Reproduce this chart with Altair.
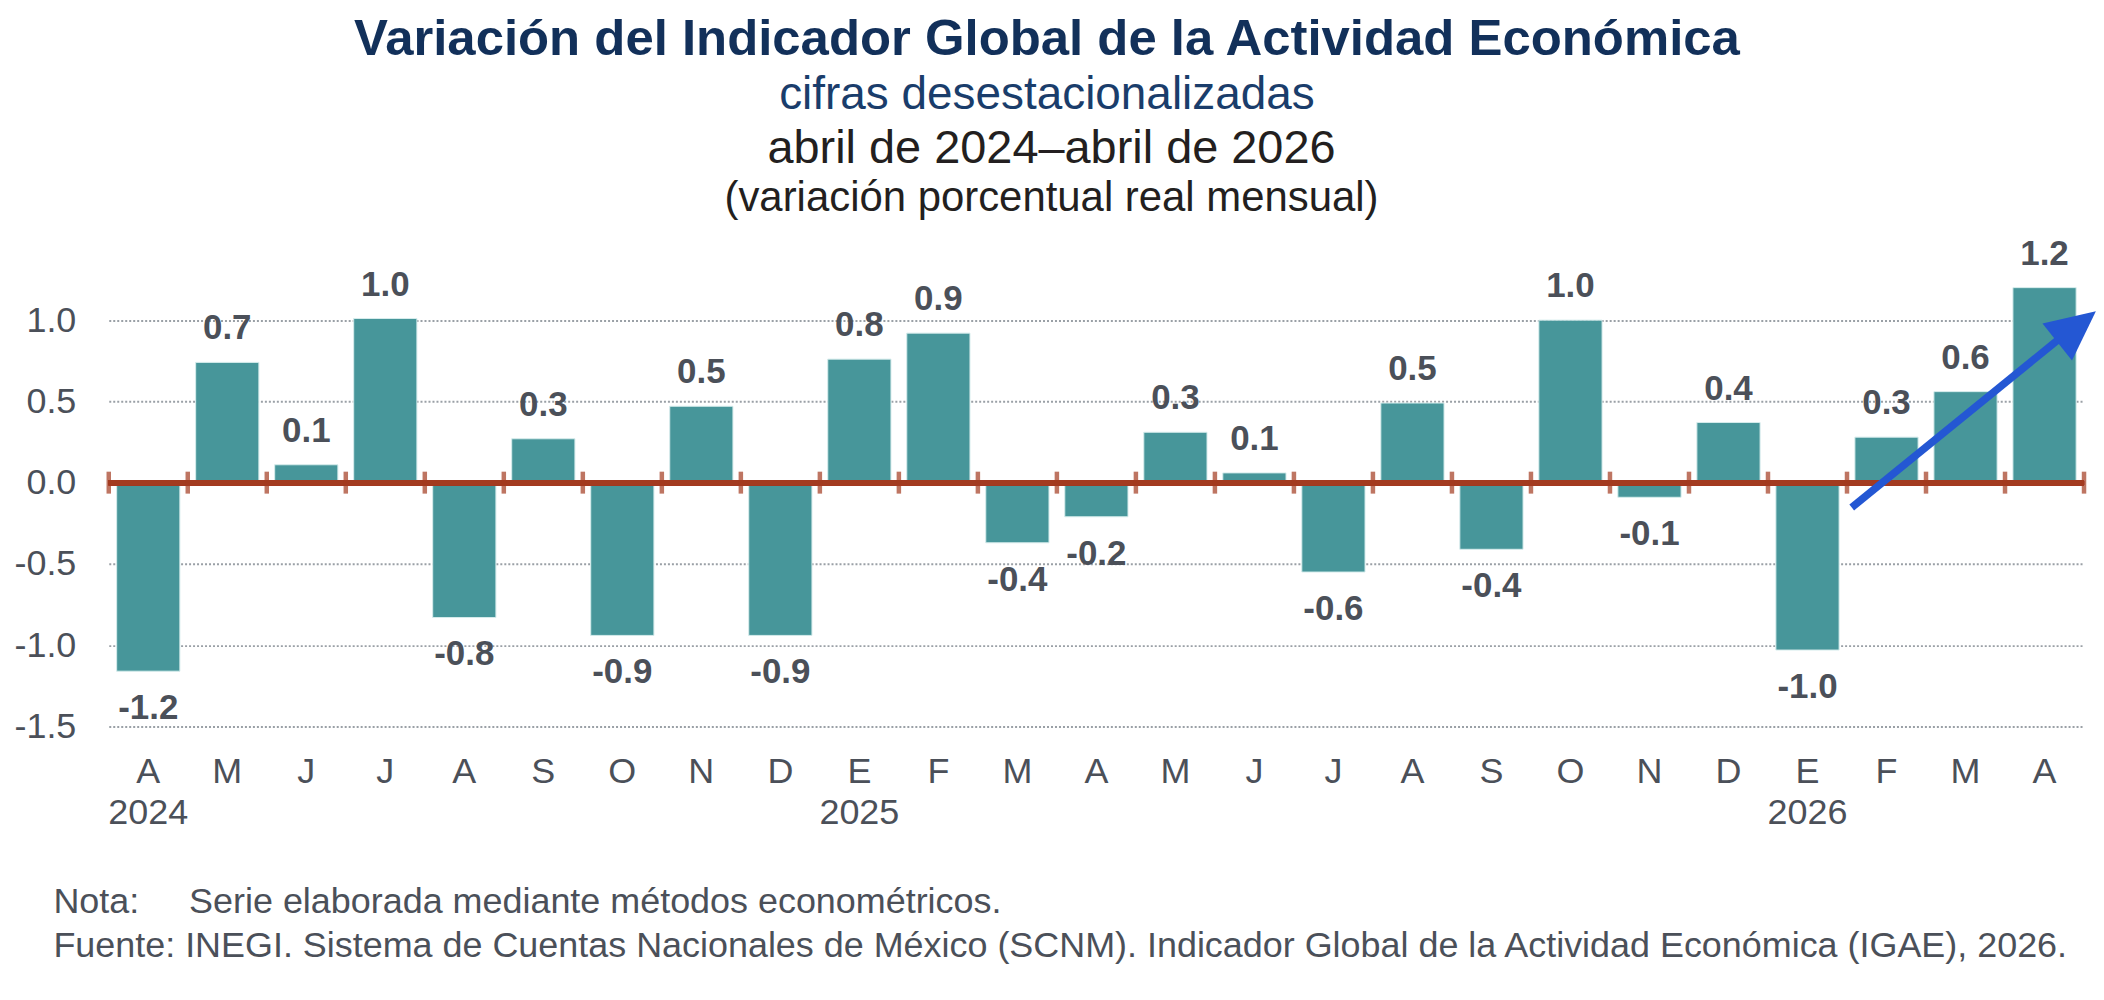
import altair as alt
import pandas as pd

# ---------------- data ----------------
months = ["A", "M", "J", "J", "A", "S", "O", "N", "D", "E", "F", "M", "A",
          "M", "J", "J", "A", "S", "O", "N", "D", "E", "F", "M", "A"]
years = ["2024", "", "", "", "", "", "", "", "", "2025", "", "", "",
         "", "", "", "", "", "", "", "", "2026", "", "", ""]
values = [-1.16, 0.74, 0.11, 1.01, -0.83, 0.27, -0.94, 0.47, -0.94, 0.76, 0.92, -0.37, -0.21,
          0.31, 0.06, -0.55, 0.49, -0.41, 1.00, -0.09, 0.37, -1.03, 0.28, 0.56, 1.20]
labels = ["-1.2", "0.7", "0.1", "1.0", "-0.8", "0.3", "-0.9", "0.5", "-0.9", "0.8", "0.9", "-0.4", "-0.2",
          "0.3", "0.1", "-0.6", "0.5", "-0.4", "1.0", "-0.1", "0.4", "-1.0", "0.3", "0.6", "1.2"]
y_ticks = [-1.5, -1.0, -0.5, 0.0, 0.5, 1.0]

# boundaries between months (in month units) for the tick marks on the zero line
boundaries = list(range(len(months) + 1))
# annotation arrow (month units / percent)
arrow_x = [22.06, 24.8]
arrow_y = [-0.153, 0.93]
arrow_tip_x = [25.15]
arrow_tip_y = [1.055]

title_text = "Variación del Indicador Global de la Actividad Económica"
subtitle_1 = "cifras desestacionalizadas"
subtitle_2 = "abril de 2024–abril de 2026"
subtitle_3 = "(variación porcentual real mensual)"
footer = [
    "Nota:\u00a0\u00a0\u00a0\u00a0\u00a0Serie elaborada mediante métodos econométricos.",
    "Fuente:\u00a0INEGI. Sistema de Cuentas Nacionales de México (SCNM). Indicador Global de la Actividad Económica (IGAE), 2026.",
]

# ---------------- styling ----------------
FONT = "Liberation Sans"
TEXT = "#4b5059"
BAR = "#47969a"
RUST = "#a33b20"
BLUE = "#2457d3"
W, H = 1980, 448

keys = [f"{i:02d}" for i in range(len(months))]
df = pd.DataFrame({"key": keys, "value": values, "label": labels})

label_lines = "[" + ",".join(f"['{m}','{y}']" for m, y in zip(months, years)) + "]"
label_expr = f"{label_lines}[toNumber(datum.value)]"

band_scale = alt.Scale(domain=keys, paddingInner=0, paddingOuter=0)
q_scale = alt.Scale(domain=[0, len(months)], nice=False, zero=False)
y_scale = alt.Scale(domain=[-1.5, 1.25], nice=False, zero=False)

x_axis = alt.Axis(
    labelExpr=label_expr, labelAngle=0, labelFontSize=36, labelColor=TEXT, labelFont=FONT,
    labelPadding=28, labelLineHeight=41, ticks=False, tickSize=0, domain=False, grid=False,
    title=footer, titleFontSize=36, titleFontWeight="normal", titleColor=TEXT, titleFont=FONT,
    titleAlign="left", titleAnchor="start", titleX=-56, titleY=159, titleBaseline="top",
    titleLineHeight=44,
)
y_axis = alt.Axis(
    values=y_ticks, labelExpr="replace(format(datum.value, '.1f'), '\u2212', '-')",
    labelFontSize=36, labelColor=TEXT, labelFont=FONT, labelPadding=33,
    ticks=False, tickSize=0, domain=False, grid=True, gridColor="#9aa0a6",
    gridDash=[2, 2], gridWidth=2, title=None,
)

bars = alt.Chart(df).mark_bar(
    color=BAR, width=alt.RelativeBandSize(0.8), stroke="#d6ecec", strokeWidth=1
).encode(
    x=alt.X("key:N", sort=keys, scale=band_scale, axis=x_axis),
    y=alt.Y("value:Q", scale=y_scale, axis=y_axis),
)

zero = alt.Chart(df).mark_rule(color=RUST, strokeWidth=5).encode(y=alt.datum(0))

ticks = alt.Chart(pd.DataFrame({"b": boundaries})).mark_tick(
    color=RUST, orient="vertical", size=22, thickness=4.5
).encode(
    x=alt.X("b:Q", scale=q_scale, axis=None),
    y=alt.datum(0),
)

pos_text = alt.Chart(df).transform_filter("datum.value >= 0").mark_text(
    font=FONT, fontSize=35, fontWeight="bold", color=TEXT, baseline="alphabetic", dy=-23
).encode(
    x=alt.X("key:N", sort=keys, scale=band_scale, axis=None),
    y=alt.Y("value:Q"),
    text="label:N",
)
neg_text = alt.Chart(df).transform_filter("datum.value < 0").mark_text(
    font=FONT, fontSize=35, fontWeight="bold", color=TEXT, baseline="top", dy=20
).encode(
    x=alt.X("key:N", sort=keys, scale=band_scale, axis=None),
    y=alt.Y("value:Q"),
    text="label:N",
)

arrow_df = pd.DataFrame({"x": [arrow_x[0]], "y": [arrow_y[0]], "x2": [arrow_x[1]], "y2": [arrow_y[1]]})
arrow_line = alt.Chart(arrow_df).mark_rule(color=BLUE, strokeWidth=7.5, strokeCap="butt").encode(
    x=alt.X("x:Q", scale=q_scale, axis=None),
    x2="x2:Q",
    y=alt.Y("y:Q"),
    y2="y2:Q",
)
tip_df = pd.DataFrame({"x": arrow_tip_x, "y": arrow_tip_y})
arrow_head = alt.Chart(tip_df).mark_point(
    shape="M0,0L0.48,1L-0.48,1Z", size=9801, filled=True, color=BLUE, opacity=1,
    angle=51.5, strokeWidth=0,
).encode(
    x=alt.X("x:Q", scale=q_scale, axis=None),
    y=alt.Y("y:Q"),
)

inner = alt.layer(
    bars, zero, ticks, pos_text, neg_text, arrow_line, arrow_head
).resolve_scale(x="independent").properties(
    width=W, height=H,
    title=alt.TitleParams(
        text=subtitle_2, subtitle=subtitle_3, fontSize=47, fontWeight="normal",
        color="#231f20", font=FONT, subtitleFontSize=42, subtitleColor="#231f20",
        subtitleFont=FONT, subtitlePadding=5, offset=17, anchor="middle", dx=-45,
    ),
)

chart = alt.vconcat(inner).properties(
    title=alt.TitleParams(
        text=title_text, subtitle=subtitle_1, fontSize=51, fontWeight="bold",
        color="#12305a", font=FONT, subtitleFontSize=46, subtitleColor="#1a3d6b",
        subtitleFont=FONT, subtitlePadding=7, offset=6, anchor="middle", dx=-8,
    ),
    padding={"left": 5, "top": 5, "right": 0, "bottom": 5},
).configure(font=FONT).configure_view(stroke=None).configure_concat(spacing=0)

chart.save("out.html", embed_options={"renderer": "svg", "actions": False})
